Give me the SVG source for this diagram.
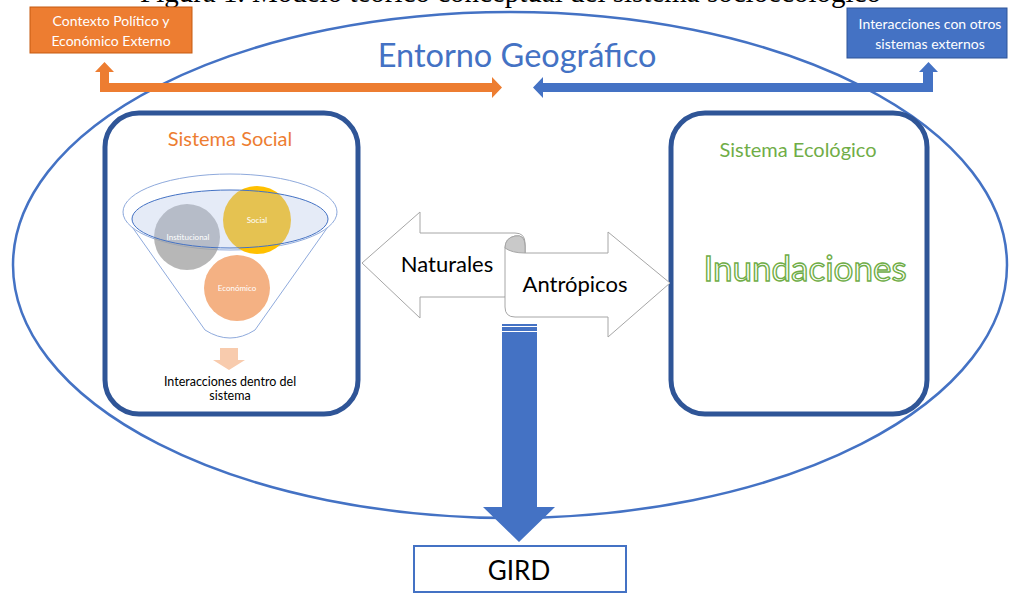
<svg xmlns="http://www.w3.org/2000/svg" width="1010" height="594" viewBox="0 0 1010 594">
<style>
.cal{font-family:Lato,"Open Sans","Liberation Sans",sans-serif}
.box{fill:#fff;stroke:#2F5597;stroke-width:5}
.ctr{text-anchor:middle}
.wt{fill:#fff}
</style>
<rect width="1010" height="594" fill="#fff"/>
<text x="140" y="2" font-family="Liberation Serif, serif" font-size="29" fill="#000">Figura 1. Modelo teórico conceptual del sistema socioecológico</text>

<g id="entorno">
<ellipse cx="510" cy="265" rx="497" ry="253" fill="none" stroke="#4472C4" stroke-width="2.5"/>
<text class="cal ctr" x="517" y="67" font-size="32.5" fill="#4472C4">Entorno Geográfico</text>
</g>

<g id="contexto">
<rect x="30" y="7" width="162" height="46" fill="#ED7D31" stroke="#C55A11" stroke-width="1"/>
<text class="cal ctr wt" x="111" y="26" font-size="14">Contexto Político y</text>
<text class="cal ctr wt" x="111" y="46" font-size="14">Económico Externo</text>
</g>

<g id="externos">
<rect x="847" y="8" width="160" height="50" fill="#4472C4" stroke="#2F5597" stroke-width="1"/>
<text class="cal ctr wt" x="930" y="29" font-size="14">Interacciones con otros</text>
<text class="cal ctr wt" x="930" y="49" font-size="14">sistemas externos</text>
</g>

<g id="social">
<rect class="box" x="105" y="113" width="253" height="301" rx="34"/>
<text class="cal ctr" x="230" y="146" font-size="20" fill="#ED7D31">Sistema Social</text>
<path d="M123,214 L205,330 Q230,346 255,330 L337,214" fill="#fff" stroke="#8FAADC" stroke-width="1"/>
<ellipse cx="230" cy="212" rx="107" ry="38" fill="#fff" stroke="#8FAADC" stroke-width="1"/>
<circle cx="187" cy="237" r="33" fill="#A5A5A5" opacity="0.8"/>
<circle cx="257" cy="220" r="34" fill="#FFC000"/>
<circle cx="237" cy="288" r="33" fill="#F4B183"/>
<ellipse cx="230" cy="219" rx="98" ry="29" fill="#B4C7E7" fill-opacity="0.35" stroke="#4472C4" stroke-width="1"/>
<text class="cal ctr wt" x="188" y="240" font-size="8">Institucional</text>
<text class="cal ctr wt" x="257" y="223" font-size="8">Social</text>
<text class="cal ctr wt" x="237" y="291" font-size="8">Económico</text>
<path d="M220,348 L238,348 L238,360 L245,360 L229,370 L213,360 L220,360 Z" fill="#F8CBAD"/>
<text class="cal ctr" x="230" y="386" font-size="12.5" fill="#000">Interacciones dentro del</text>
<text class="cal ctr" x="230" y="400" font-size="12.5" fill="#000">sistema</text>
</g>

<g id="ecologico">
<rect class="box" x="671" y="113" width="256" height="301" rx="34"/>
<text class="cal ctr" x="798" y="157" font-size="20" fill="#70AD47">Sistema Ecológico</text>
<text class="cal ctr" x="805" y="281" font-size="35" fill="#fff" stroke="#70AD47" stroke-width="1.4">Inundaciones</text>
</g>

<g id="naturales">
<path d="M362,263 L420,212 L420,233 L515,233 Q525,233 525,243 L525,253 L505,297 L420,297 L420,318 Z" fill="#fff" stroke="#A6A6A6" stroke-width="1"/>
<text class="cal ctr" x="447" y="272" font-size="22" fill="#000">Naturales</text>
</g>

<g id="antropicos">
<path d="M505,248 Q505,238 515,236 Q525,234 525,246 L525,253 L608,253 L608,232 L670,283 L608,337 L608,317 L515,317 Q505,317 505,307 Z" fill="#fff" stroke="#A6A6A6" stroke-width="1"/>
<path d="M505,248 Q505,238 515,236 Q525,234 525,246 L525,253 Q512,253 505,248 Z" fill="#C9C9C9" stroke="#A6A6A6" stroke-width="1"/>
<text class="cal ctr" x="575" y="292" font-size="22" fill="#000">Antrópicos</text>
</g>

<g id="gird">
<rect x="414" y="546" width="212" height="46" fill="#fff" stroke="#4472C4" stroke-width="2"/>
<text class="cal ctr" x="519" y="580" font-size="26" fill="#000">GIRD</text>
</g>

<g id="connectors">
<path d="M100,92 L100,72 L95,72 L104.5,62 L114,72 L109,72 L109,83 L492,83 L492,77 L502,87.5 L492,98 L492,92 Z" fill="#ED7D31"/>
<path d="M533,87.5 L543,77 L543,83 L923,83 L923,72 L919,72 L928.5,62 L938,72 L933,72 L933,92 L543,92 L543,98 Z" fill="#4472C4"/>
<rect x="502" y="324" width="35" height="2" fill="#4472C4"/>
<rect x="502" y="327" width="35" height="4" fill="#4472C4"/>
<path d="M502,332 L537,332 L537,507 L555,507 L519,542 L483,507 L502,507 Z" fill="#4472C4"/>
</g>
</svg>
